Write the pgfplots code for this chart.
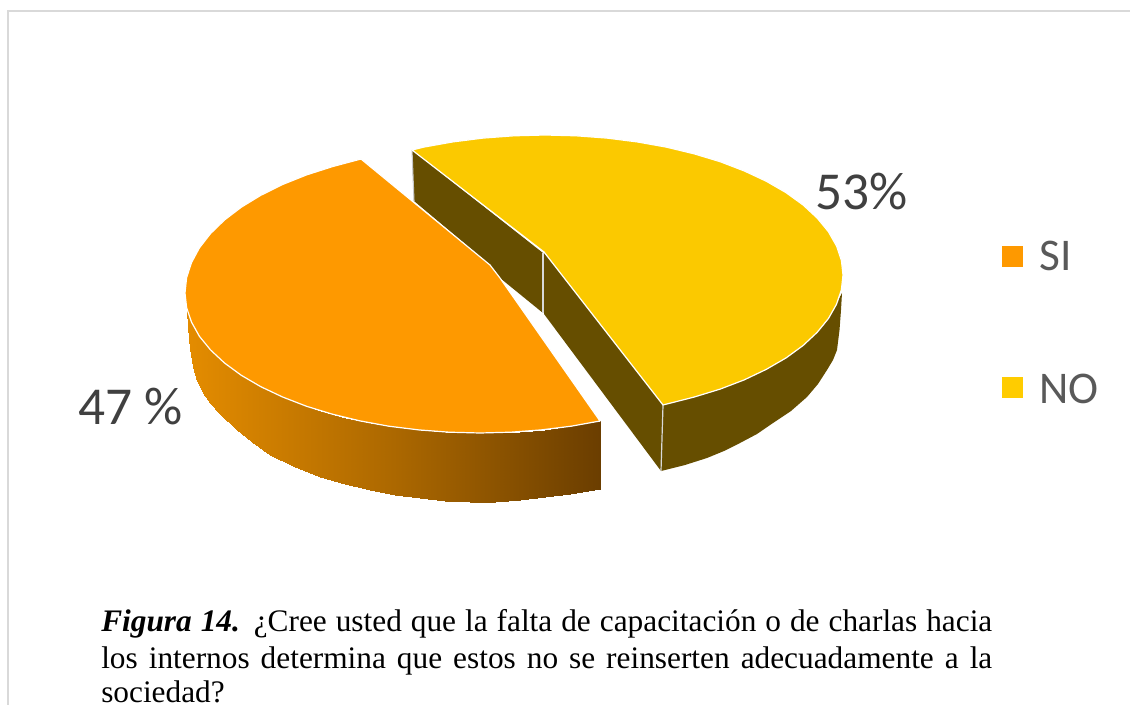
\documentclass[border=0pt]{standalone}
\usepackage{fontspec}
\setmainfont{Carlito}
\newfontfamily\capfont{Liberation Serif}
\usepackage{pgfplots}
\pgfplotsset{compat=1.18}
\definecolor{naranja}{RGB}{254,153,0}
\definecolor{amarillo}{RGB}{251,201,0}
\definecolor{clave}{RGB}{255,204,0}
\definecolor{oliva}{RGB}{102,78,0}
\definecolor{bordegris}{RGB}{217,217,217}
\begin{document}
\begin{tikzpicture}
\path[use as bounding box] (0,0) rectangle (847.5pt,528.75pt);
\begin{axis}[
  at={(0,0)}, anchor=south west,
  scale only axis, width=847.5pt, height=528.75pt,
  xmin=0, xmax=1130, ymin=0, ymax=705, y dir=reverse,
  hide axis,
  colormap={lado}{rgb255=(228,140,0) rgb255=(172,104,0) rgb255=(107,62,0)},
]
% frame
\addplot[bordegris, line width=1.5pt] coordinates {(8,705) (8,11) (1130,11)};

% yellow slice, inner walls
\addplot[fill=oliva, draw=none] coordinates {(412,150) (543,253) (543,313) (500,278) (490,265) (414,201)} --cycle;
\addplot[fill=oliva, draw=none] coordinates {(544,252) (663,405) (661,471) (544,314)} --cycle;
% yellow slice, outer wall
\addplot[fill=oliva, draw=none] coordinates {
  (663,404) (694,397) (720,389) (744,380) (766,369) (786,358) (803,345) (817,332)
  (828,318) (836,304) (842,293)
  (841,310) (839.5,330) (837,350) (833,360) (827,370) (818,384) (807,397) (791,411)
  (773,423) (757,434) (740,443) (724,451) (707,458) (685,465) (661,471)} --cycle;
\addplot[color=bordegris!80!gray, line width=0.8pt] coordinates {(412,150) (414,201)};
\addplot[color=bordegris, line width=0.8pt] coordinates {(543,253) (543,313)};
\addplot[color=bordegris, line width=0.9pt] coordinates {(663,405) (661,471)};
% yellow slice, top
\addplot[fill=amarillo, draw=white, line width=0.9pt, line join=round] coordinates {
  (663,405) (694,397.1) (720.2,389.1) (744.4,379.8) (766.4,369.3) (786.1,357.9)
  (803.1,345.5) (817.2,332.3) (828.4,318.6) (836.5,304.3) (841.4,289.7) (843,275)
  (841.4,260.4) (836.5,245.9) (828.4,231.7) (817.2,218.1) (803.1,205) (786.1,192.7)
  (766.4,181.3) (744.4,171) (720.2,161.7) (694,153.8) (666.2,147.1) (637.1,141.9)
  (607,138.1) (576.1,135.8) (545,135) (513.9,135.8) (483,138.1) (452.9,141.9)
  (423.8,147.1) (412,150) (544,252)} --cycle;

% orange slice, outer wall with the shading
\addplot[surf, shader=interp, mesh/cols=2, point meta=x] coordinates {
  (187,309) (187,312)
  (188,313) (188,325)
  (189,316) (189,340)
  (191,321) (191,355)
  (193,325.4) (193,367)
  (197,332.5) (197,381)
  (203,341.2) (203,393)
  (210,349.4) (210,403)
  (220,359) (220,414)
  (237,372.4) (237,430)
  (252,381.8) (252,442)
  (270,391.3) (270,455)
  (295,402) (295,467)
  (320,410.6) (320,477)
  (345,417.5) (345,484)
  (370,422.9) (370,490)
  (395,427) (395,495)
  (420,430) (420,498)
  (445,432) (445,501)
  (470,432.9) (470,502)
  (495,432.8) (495,501.5)
  (520,431.7) (520,500)
  (545,429.6) (545,497)
  (570,426.3) (570,494)
  (600,421) (600,489)
};
% orange slice, top
\addplot[fill=naranja, draw=white, line width=0.9pt, line join=round] coordinates {
  (361,159) (332.5,166.6) (306.6,174.9) (282.6,184.5) (260.8,195.3) (241.3,207.2)
  (224.5,220) (210.5,233.6) (199.4,247.9) (191.5,262.6) (186.6,277.7) (185,293)
  (186.6,307.6) (191.5,322.1) (199.4,336.3) (210.5,349.9) (224.5,363) (241.3,375.3)
  (260.8,386.7) (282.6,397) (306.6,406.3) (332.5,414.2) (360,420.9) (388.8,426.2)
  (418.7,429.9) (449.2,432.2) (480,433) (510.8,432.2) (541.3,429.9) (571.2,426.2)
  (600,421) (500,278) (490,265)} --cycle;

% legend keys
\addplot[fill=naranja, draw=none] coordinates {(1002,246) (1023,246) (1023,267) (1002,267)} --cycle;
\addplot[fill=clave, draw=none] coordinates {(1002,377) (1023,377) (1023,398) (1002,398)} --cycle;

\node[anchor=base west, inner sep=0pt, text=black!75] at (axis cs:815,210) {\fontsize{40pt}{48pt}\selectfont 53\%};
\node[anchor=base west, inner sep=0pt, text=black!75] at (axis cs:78,424) {\fontsize{40pt}{48pt}\selectfont 47 \%};
\node[anchor=base west, inner sep=0pt, text=black!65] at (axis cs:1039,271) {\fontsize{34pt}{40pt}\selectfont SI};
\node[anchor=base west, inner sep=0pt, text=black!65] at (axis cs:1039,403) {\fontsize{34pt}{40pt}\selectfont NO};

\node[anchor=base west, inner sep=0pt] at (axis cs:101,631) {\capfont\fontsize{23.5pt}{27pt}\selectfont\makebox[668.25pt][s]{\textbf{\textit{Figura 14.}} ¿Cree usted que la falta de capacitación o de charlas hacia}};
\node[anchor=base west, inner sep=0pt] at (axis cs:101,668) {\capfont\fontsize{23.5pt}{27pt}\selectfont\makebox[668.25pt][s]{los internos determina que estos no se reinserten adecuadamente a la}};
\node[anchor=base west, inner sep=0pt] at (axis cs:101,702) {\capfont\fontsize{23.5pt}{27pt}\selectfont sociedad?};
\end{axis}
\end{tikzpicture}
\end{document}
